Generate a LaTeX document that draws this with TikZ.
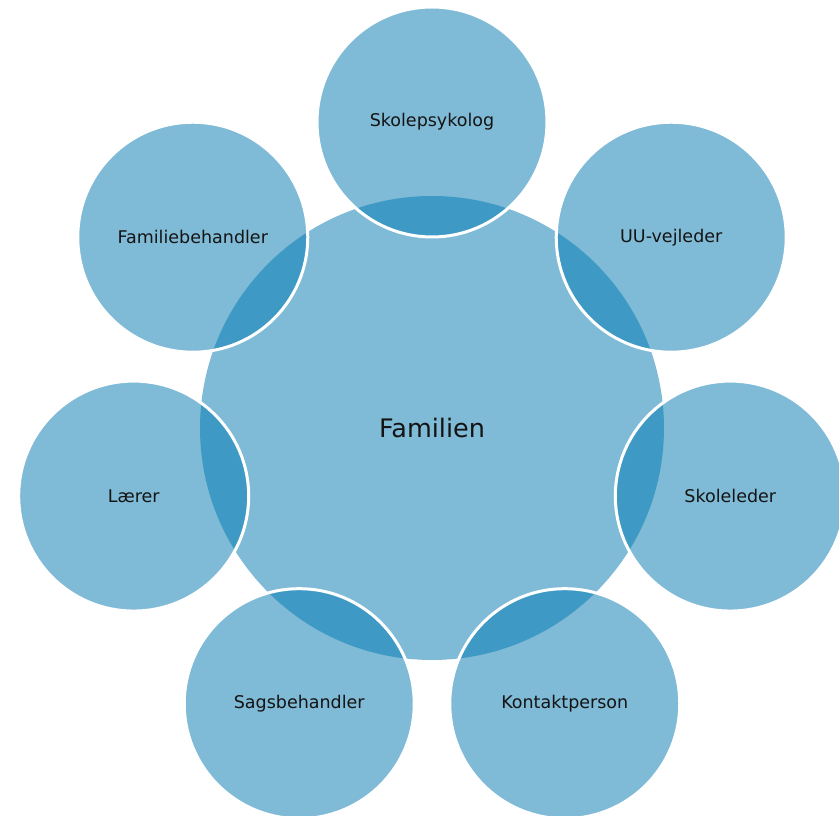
\documentclass[tikz,border=0pt]{standalone}
\usepackage{fontspec}
\setmainfont{DejaVu Sans}
\usetikzlibrary{calc}
\definecolor{lightblue}{RGB}{127,186,214}
\definecolor{darkblue}{RGB}{62,154,196}
\definecolor{txt}{RGB}{20,20,20}
\begin{document}
\begin{tikzpicture}[x=1pt,y=1pt,
  hub/.style={circle,fill=lightblue,minimum size=464pt,inner sep=0pt,text=txt,font=\fontsize{25.5}{28}\selectfont},
  sat/.style={circle,fill=lightblue,minimum size=230pt,inner sep=0pt,text=txt,font=\fontsize{17.5}{20}\selectfont},
  rim/.style={draw=white,line width=3pt}]
\useasboundingbox (0,0) rectangle (839,816);
\clip (0,0) rectangle (839,816);
\node[hub] (c) at (432,388) {Familien};
\foreach \n/\a/\t in {s1/90/Skolepsykolog, s2/38.571/UU-vejleder, s3/-12.857/Skoleleder, s4/-64.286/Kontaktperson, s5/-115.714/Sagsbehandler, s6/-167.143/Lærer, s7/141.429/Familiebehandler}{
  \node[sat] (\n) at ($(c)+(\a:306pt)$) {\t};
}
\begin{scope}
  \clip (c.center) circle (232pt);
  \foreach \n in {s1,s2,s3,s4,s5,s6,s7}{
    \fill[darkblue] (\n.center) circle (115pt);
  }
\end{scope}
\foreach \n in {s1,s2,s3,s4,s5,s6,s7}{
  \draw[rim] (\n.center) circle (115pt);
}
\end{tikzpicture}
\end{document}
